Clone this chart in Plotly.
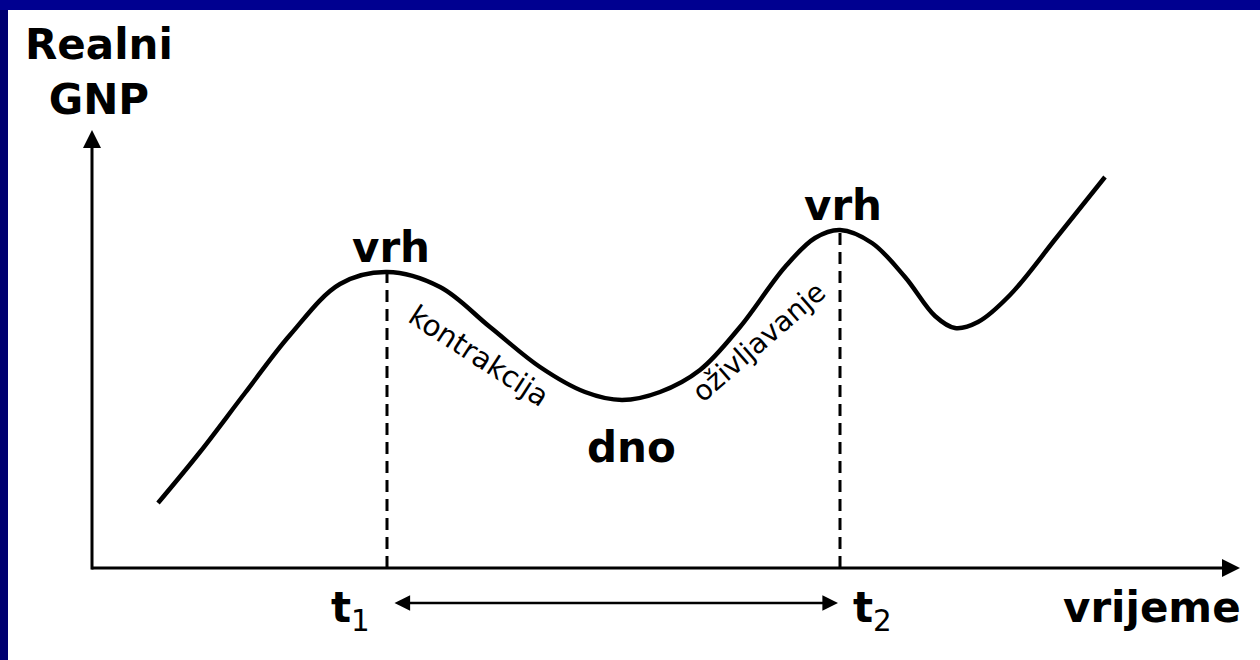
import plotly.graph_objects as go

time_vals = [66, 108, 153, 198, 248, 295, 348, 398, 448, 493, 530, 568, 608, 648, 693,
             723, 748, 780, 813, 843, 863, 886, 918, 965, 1013]
gnp_vals = [65, 116, 175, 233, 284, 296, 281, 241, 201, 176, 168, 176, 198, 241, 301,
            330, 338, 325, 291, 252, 240, 246, 273, 331, 391]

peak_times = [295, 748]
peak_gnp = [296, 338]
trough_time = 530
trough_gnp = 168

x_axis_end = 1148
y_axis_end = 438
span_level = -35

FONT_B = "DejaVu Sans"
fig = go.Figure()

# main curve
fig.add_trace(go.Scatter(x=time_vals, y=gnp_vals, mode="lines",
                         line=dict(color="black", width=4.5, shape="spline", smoothing=1.0),
                         hoverinfo="skip"))

# dashed verticals from peaks
for px, py in zip(peak_times, peak_gnp):
    fig.add_trace(go.Scatter(x=[px, px], y=[0, py], mode="lines",
                             line=dict(color="black", width=3, dash="12px,7px"),
                             hoverinfo="skip"))

ann = []
# axes as arrows
ann.append(dict(x=0, y=y_axis_end, ax=0, ay=-3, xref="x", yref="y", axref="x", ayref="y",
                showarrow=True, arrowhead=2, arrowsize=1.2, arrowwidth=3, arrowcolor="black", text=""))
ann.append(dict(x=x_axis_end, y=0, ax=-2, ay=0, xref="x", yref="y", axref="x", ayref="y",
                showarrow=True, arrowhead=2, arrowsize=1.2, arrowwidth=3, arrowcolor="black", text=""))
# double arrow t1 - t2
ann.append(dict(x=peak_times[1] - 2, y=span_level, ax=peak_times[0] + 6, ay=span_level,
                xref="x", yref="y", axref="x", ayref="y", showarrow=True, arrowhead=2,
                startarrowhead=2, arrowside="end+start", arrowsize=1.3, startarrowsize=1.3,
                arrowwidth=2.4, arrowcolor="black", text=""))

def txt(x, y, s, size=42, bold=True, angle=0):
    return dict(x=x, y=y, xref="x", yref="y", text=(f"<b>{s}</b>" if bold else s),
                showarrow=False, textangle=angle, xanchor="center", yanchor="middle",
                font=dict(family=FONT_B, size=size, color="black"))

ann.append(txt(7, 496, "Realni<br>GNP"))
ann.append(txt(peak_times[0] + 4, peak_gnp[0] + 25, "vrh"))
ann.append(txt(peak_times[1] + 3, peak_gnp[1] + 25, "vrh"))
ann.append(txt(trough_time + 9, trough_gnp - 47, "dno"))
ann.append(txt(1060, -39, "vrijeme"))
ann.append(dict(x=258, y=-42, xref="x", yref="y", text="<b>t</b><sub>1</sub>", showarrow=False,
                font=dict(family=FONT_B, size=42, color="black")))
ann.append(dict(x=780, y=-42, xref="x", yref="y", text="<b>t</b><sub>2</sub>", showarrow=False,
                font=dict(family=FONT_B, size=42, color="black")))
ann.append(txt(387, 212, "kontrakcija", size=29, bold=False, angle=33))
ann.append(txt(666, 226, "oživljavanje", size=28, bold=False, angle=-41))

shapes = [
    dict(type="rect", xref="paper", yref="paper", x0=0, x1=8 / 1260, y0=0, y1=1,
         fillcolor="#000070", line=dict(width=0), layer="above"),
    dict(type="rect", xref="paper", yref="paper", x0=0, x1=1, y0=1 - 10 / 660, y1=1,
         fillcolor="#000090", line=dict(width=0), layer="above"),
]

fig.update_layout(
    width=1260, height=660, margin=dict(l=0, r=0, t=0, b=0),
    paper_bgcolor="white", plot_bgcolor="white", showlegend=False,
    xaxis=dict(range=[-92, 1168], visible=False, fixedrange=True),
    yaxis=dict(range=[-92, 568], visible=False, fixedrange=True),
    annotations=ann, shapes=shapes,
)

fig.write_html("out.html", config={"displayModeBar": False},
               post_script="document.body.style.margin='0';document.body.style.overflow='hidden';")
